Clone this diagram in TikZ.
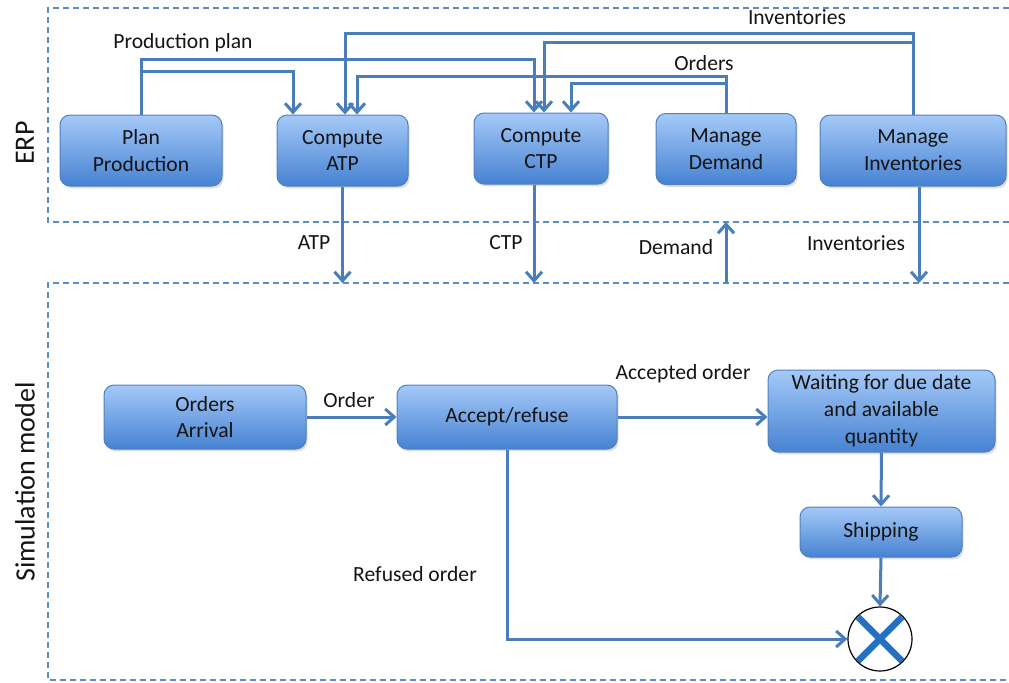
\documentclass[tikz,border=0pt]{standalone}
\usepackage{fontspec}
\setmainfont{Carlito}
\usepackage{tikz}
\usetikzlibrary{arrows.meta, calc, shadows}
\definecolor{FlowBlue}{RGB}{74,126,187}
\definecolor{FrameBlue}{RGB}{92,140,200}
\definecolor{BoxTop}{RGB}{165,201,248}
\definecolor{BoxBottom}{RGB}{70,130,210}
\definecolor{BoxLine}{RGB}{80,128,192}
\definecolor{CrossBlue}{RGB}{36,113,196}
\definecolor{TxtGray}{RGB}{20,20,20}
\newcommand{\boxfont}{\fontsize{10.8}{13.4}\selectfont}
\newcommand{\erph}{35.5pt}
\newcommand{\simh}{32pt}
\tikzset{next/.style={->, >={Straight Barb[length=4.5pt, width=8pt]}, FlowBlue, line width=1.5pt}}
\tikzset{frame/.style={FrameBlue, line width=.8pt, dash pattern=on 3pt off 2pt}}
\tikzset{proc/.style={rectangle, rounded corners=5pt, draw=BoxLine, line width=.5pt, top color=BoxTop, bottom color=BoxBottom, drop shadow={opacity=.25, shadow xshift=.8pt, shadow yshift=-1.2pt}, align=center, text=TxtGray, inner sep=1pt, font=\boxfont}}
\tikzset{lbl/.style={text=TxtGray, inner sep=0pt, font=\boxfont}}
\tikzset{side/.style={rotate=90, text=TxtGray, inner sep=0pt, font=\fontsize{14}{16}\selectfont}}
\tikzset{sink/.style={circle, draw=black, line width=.6pt, fill=white, minimum size=32pt, inner sep=0pt,
  path picture={\draw[CrossBlue, line width=3.2pt]
    ($(path picture bounding box.center)+(-11pt,-11pt)$) -- ($(path picture bounding box.center)+(11pt,11pt)$)
    ($(path picture bounding box.center)+(-11pt,11pt)$) -- ($(path picture bounding box.center)+(11pt,-11pt)$);}}}

\begin{document}
\begin{tikzpicture}[x=.5pt, y=-.5pt]
  \useasboundingbox (0,0) rectangle (1009,682);

  % --- frames ---
  \coordinate (erpbot) at (48,222);
  \coordinate (simtop) at (48,283);
  \draw[frame] (1009,8) -| (erpbot) -- (1009,222);
  \draw[frame] (1009,283) -| (48,680) -- (1009,680);
  \node[side] (erpname) at (25,143) {ERP};
  \node[side] (simname) at (25,482) {Simulation model};

  % --- erp ---
  \begin{scope}
    \node[proc, minimum width=81pt, minimum height=\erph] (plan) at (141,150.5) {Plan\\Production};
    \node[proc, minimum width=65.5pt, minimum height=\erph] (atp) at (342.5,150.5) {Compute\\ATP};
    \node[proc, minimum width=67pt, minimum height=\erph] (ctp) at (541,148.5) {Compute\\CTP};
    \node[proc, minimum width=70pt, minimum height=\erph] (dem) at (726,149) {Manage\\Demand};
    \node[proc, minimum width=93pt, minimum height=\erph] (inv) at (913,150.5) {Manage\\Inventories};

    \coordinate (inl) at (0,33);
    \coordinate (inlb) at (0,42);
    \coordinate (pp) at (0,59);
    \coordinate (ppb) at (0,71);
    \coordinate (ordl) at (0,76);
    \coordinate (ordlb) at (0,83);

    \draw[next] (plan.north) -- (plan.north |- pp) -| ([xshift=-3.5pt]ctp.north);
    \draw[next] (plan.north |- ppb) -| ([xshift=-24.75pt]atp.north);
    \draw[next] (inv.north) -- (inv.north |- inl) -| ([xshift=1.25pt]atp.north);
    \draw[next] (inv.north |- inlb) -| ([xshift=1.5pt]ctp.north);
    \draw[next] (dem.north) -- (dem.north |- ordl) -| ([xshift=7.25pt]atp.north);
    \draw[next] (dem.north |- ordlb) -| ([xshift=15pt]ctp.north);

    \node[lbl] (lplan) at (183,43) {Production plan};
    \node[lbl] (linv) at (797,17) {Inventories};
    \node[lbl] (lord) at (704,63) {Orders};
  \end{scope}

  % --- exchange ---
  \draw[next] (atp.south) -- (atp.south |- simtop);
  \draw[next] ([xshift=-3.5pt]ctp.south) -- ([xshift=-3.5pt]ctp.south |- simtop);
  \draw[next] (dem.south |- simtop) -- (dem.south |- erpbot);
  \draw[next] ([xshift=3pt]inv.south) -- ([xshift=3pt]inv.south |- simtop);
  \node[lbl] (latp) at (314,243) {ATP};
  \node[lbl] (lctp) at (506,243) {CTP};
  \node[lbl] (ldem) at (676,247) {Demand};
  \node[lbl] (linvb) at (856,243) {Inventories};

  % --- simulation ---
  \begin{scope}
    \node[proc, minimum width=101pt, minimum height=\simh] (arr) at (205,417) {Orders\\Arrival};
    \node[proc, minimum width=110pt, minimum height=\simh] (acc) at (507,417) {Accept/refuse};
    \node[proc, minimum width=113.5pt, minimum height=41pt] (wait) at (881.5,411) {Waiting for due date\\and available\\quantity};
    \node[proc, minimum width=81pt, minimum height=25pt] (ship) at (881,532) {Shipping};
    \node[sink] (out) at (880,639) {};

    \draw[next] (arr.east) -- (acc.west);
    \draw[next] (acc.east) -- (acc.east -| wait.west);
    \draw[next] (wait.south) -- (ship.north);
    \draw[next] (ship.south) -- (out.north);
    \draw[next] (acc.south) |- (out.west);

    \node[lbl] (lorder) at (349,400) {Order};
    \node[lbl] (lacc) at (683,374) {Accepted order};
    \node[lbl] (lref) at (415,574) {Refused order};
  \end{scope}
\end{tikzpicture}
\end{document}
